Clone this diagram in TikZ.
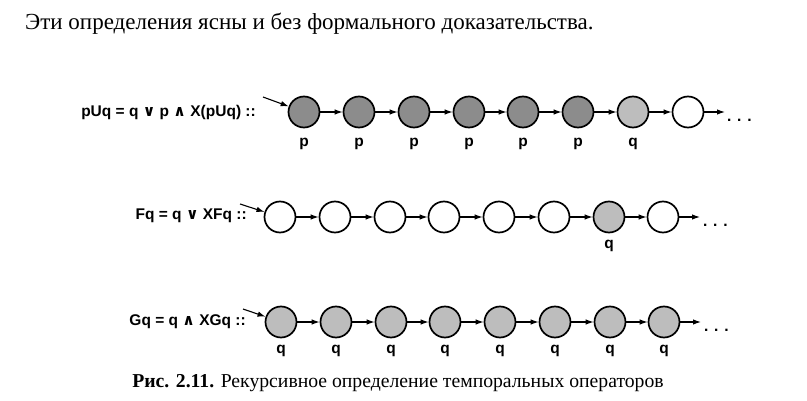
\documentclass[tikz,border=0pt]{standalone}
\usepackage{fontspec}
\setmainfont{Liberation Serif}
\setsansfont{Liberation Sans}
\newfontfamily\symfont{DejaVu Sans}
\usetikzlibrary{arrows.meta,positioning}

\tikzset{
  world/.style={circle, draw, line width=1.7pt, minimum size=31pt, inner sep=0pt},
  pworld/.style={world, fill=black!45},
  qworld/.style={world, fill=black!26},
  lbl/.style={font=\sffamily\bfseries\fontsize{15.5}{15.5}\selectfont, inner sep=0pt},
  link/.style={-{Latex[length=8pt,width=5.5pt]}, line width=1.1pt},
}

\begin{document}
\begin{tikzpicture}[x=1pt,y=1pt]
  \useasboundingbox (0,0) rectangle (807,400);

  % Text above and caption
  \node [anchor=base west, inner sep=0pt, font=\fontsize{23}{23}\selectfont] (intro) at (25,370) {Эти определения ясны и без формального доказательства.};
  \node [anchor=base, inner sep=0pt, font=\fontsize{19.7}{19.7}\selectfont] (caption) at (398,13) {\textbf{Рис. 2.11.} Рекурсивное определение темпоральных операторов};

  % Until
  \node [lbl, anchor=east] (uform) at (256,288) {pUq = q {\symfont ∨} p {\symfont ∧} X(pUq) ::};
  \coordinate (us) at (263,303);
  \node [pworld] (u1) at (304,288) {}; \node [pworld] (u2) at (359,288) {}; \node [pworld] (u3) at (414,288) {}; \node [pworld] (u4) at (469,288) {}; \node [pworld] (u5) at (523,288) {}; \node [pworld] (u6) at (578,288) {}; \node [qworld] (u7) at (633,288) {}; \node [world] (u8) at (688,288) {};
  \coordinate (ue) at (725,288);
  \draw [link] (us) -- (u1);
  \draw [link] (u1) -- (u2); \draw [link] (u2) -- (u3); \draw [link] (u3) -- (u4); \draw [link] (u4) -- (u5); \draw [link] (u5) -- (u6); \draw [link] (u6) -- (u7); \draw [link] (u7) -- (u8); \draw [link] (u8) -- (ue);
  \node [lbl, anchor=base west] (udots) at (727,279) {. . .};
  \node [lbl, below=10pt of u1] (ul1) {p}; \node [lbl, below=10pt of u2] (ul2) {p}; \node [lbl, below=10pt of u3] (ul3) {p}; \node [lbl, below=10pt of u4] (ul4) {p}; \node [lbl, below=10pt of u5] (ul5) {p}; \node [lbl, below=10pt of u6] (ul6) {p}; \node [lbl, below=10pt of u7] (ul7) {q};

  % Finally
  \node [lbl, anchor=east] (fform) at (247,184) {Fq = q {\symfont ∨} XFq ::};
  \coordinate (fs) at (240,196);
  \node [world] (f1) at (280,183) {}; \node [world] (f2) at (335,183) {}; \node [world] (f3) at (390,183) {}; \node [world] (f4) at (444,183) {}; \node [world] (f5) at (499,183) {}; \node [world] (f6) at (554,183) {}; \node [qworld] (f7) at (609,183) {}; \node [world] (f8) at (663,183) {};
  \coordinate (fe) at (700,183);
  \draw [link] (fs) -- (f1);
  \draw [link] (f1) -- (f2); \draw [link] (f2) -- (f3); \draw [link] (f3) -- (f4); \draw [link] (f4) -- (f5); \draw [link] (f5) -- (f6); \draw [link] (f6) -- (f7); \draw [link] (f7) -- (f8); \draw [link] (f8) -- (fe);
  \node [lbl, anchor=base west] (fdots) at (703,174) {. . .};
  \node [lbl, below=7pt of f7] (fl7) {q};

  % Globally
  \node [lbl, anchor=east] (gform) at (246,78) {Gq = q {\symfont ∧} XGq ::};
  \coordinate (gs) at (243,91);
  \node [qworld] (g1) at (281,78) {}; \node [qworld] (g2) at (336,78) {}; \node [qworld] (g3) at (391,78) {}; \node [qworld] (g4) at (445,78) {}; \node [qworld] (g5) at (500,78) {}; \node [qworld] (g6) at (555,78) {}; \node [qworld] (g7) at (610,78) {}; \node [qworld] (g8) at (664,78) {};
  \coordinate (ge) at (701,78);
  \draw [link] (gs) -- (g1);
  \draw [link] (g1) -- (g2); \draw [link] (g2) -- (g3); \draw [link] (g3) -- (g4); \draw [link] (g4) -- (g5); \draw [link] (g5) -- (g6); \draw [link] (g6) -- (g7); \draw [link] (g7) -- (g8); \draw [link] (g8) -- (ge);
  \node [lbl, anchor=base west] (gdots) at (704,69) {. . .};
  \node [lbl, below=7pt of g1] (gl1) {q}; \node [lbl, below=7pt of g2] (gl2) {q}; \node [lbl, below=7pt of g3] (gl3) {q}; \node [lbl, below=7pt of g4] (gl4) {q}; \node [lbl, below=7pt of g5] (gl5) {q}; \node [lbl, below=7pt of g6] (gl6) {q}; \node [lbl, below=7pt of g7] (gl7) {q}; \node [lbl, below=7pt of g8] (gl8) {q};
\end{tikzpicture}
\end{document}
